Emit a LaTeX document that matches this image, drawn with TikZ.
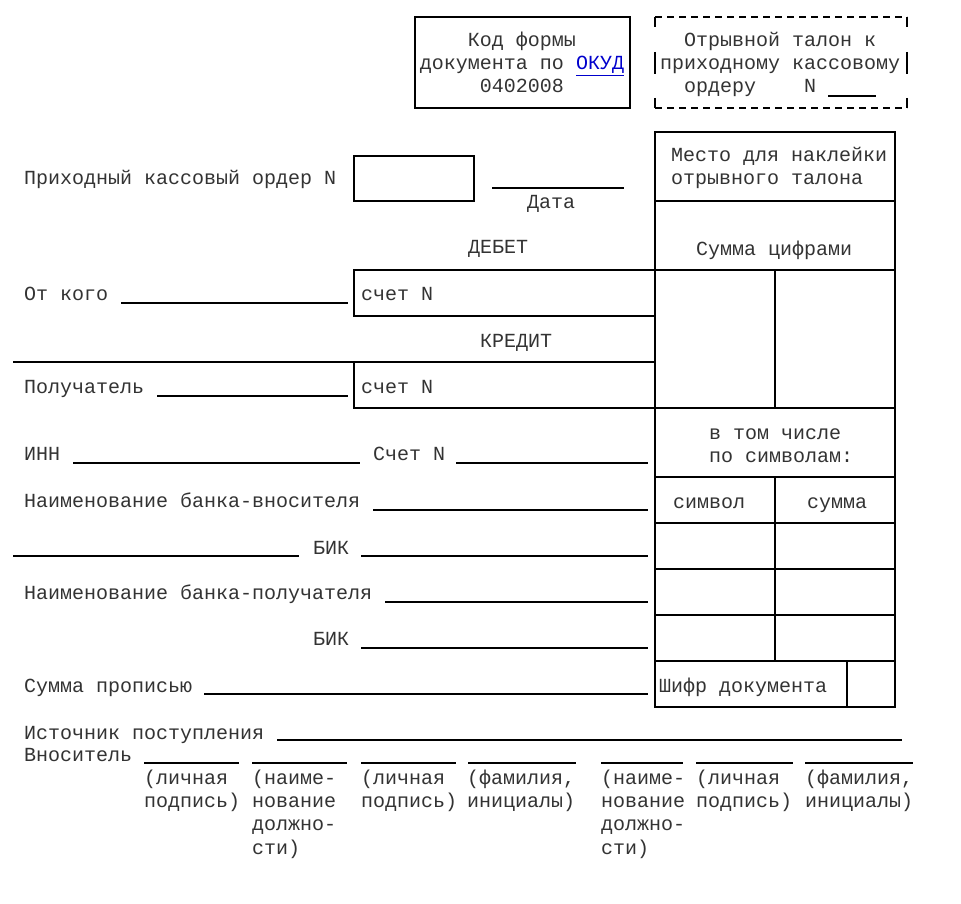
\documentclass[tikz,border=0pt]{standalone}
\usepackage{fontspec}
\setmainfont{Liberation Mono}
\definecolor{ink}{gray}{0.2}
\definecolor{okud}{rgb}{0,0,0.8}
\tikzset{
  lbl/.style={anchor=base west, inner sep=0pt, font=\fontsize{20}{23}\selectfont, text=ink, yshift=-2pt},
  ctr/.style={lbl, anchor=base},
  rule/.style={line width=1.1pt, draw=black},
  dashrule/.style={rule, dash pattern=on 7pt off 5pt}
}
\begin{document}
\begin{tikzpicture}[x=1pt,y=-1pt]
\useasboundingbox[fill=white] (0,0) rectangle (961,904);

% --- top box: form code
\draw[rule] (415,17) rectangle (630,108);
\node[ctr] (kod1) at (522,45) {Код формы};
\node[ctr] (kod2) at (522,68) {документа по \textcolor{okud}{\underline{ОКУД}}};
\node[ctr] (kod3) at (522,91) {0402008};

% --- dashed box: tear-off slip
\draw[dashrule] (655,17) -- (907,17);
\draw[dashrule] (655,108) -- (907,108);
\foreach \xx in {655,907}{
  \draw[rule] (\xx,17) -- (\xx,27);
  \draw[rule] (\xx,52) -- (\xx,74);
  \draw[rule] (\xx,98) -- (\xx,108);
}
\node[lbl] (tal1) at (684,45) {Отрывной талон к};
\node[lbl] (tal2) at (660,68) {приходному кассовому};
\node[lbl] (tal3) at (684,91) {ордеру};
\node[lbl] (tal4) at (804,91) {N};
\draw[rule] (828,96) -- (876,96);

% --- right table
\draw[rule] (655,132) rectangle (895,707);
\foreach \yy in {201,270,408,477,523,569,615,661}{
  \draw[rule] (655,\yy) -- (895,\yy);
}
\draw[rule] (775,270) -- (775,408);
\draw[rule] (775,477) -- (775,661);
\draw[rule] (847,661) -- (847,707);
\node[lbl] (mesto1) at (671,160) {Место для наклейки};
\node[lbl] (mesto2) at (671,183) {отрывного талона};
\node[lbl] (sumc) at (696,253) {Сумма цифрами};
\node[lbl] (vtom1) at (709,437) {в том числе};
\node[lbl] (vtom2) at (709,460) {по символам:};
\node[lbl] (simv) at (673,506) {символ};
\node[lbl] (summa) at (807,506) {сумма};
\node[lbl] (shifr) at (659,690) {Шифр документа};

% --- order number and date
\node[lbl] (pko) at (24,183) {Приходный кассовый ордер N};
\draw[rule] (354,156) rectangle (474,201);
\draw[rule] (492,188) -- (624,188);
\node[ctr] (data) at (551,207) {Дата};

% --- debit
\node[ctr] (debet) at (498,252) {ДЕБЕТ};
\draw[rule] (655,270) -- (354,270) -- (354,316) -- (655,316);
\node[lbl] (otkogo) at (24,298) {От кого};
\draw[rule] (121,303) -- (348,303);
\node[lbl] (schet1) at (361,298) {счет N};

% --- credit
\node[ctr] (kredit) at (516,345) {КРЕДИТ};
\draw[rule] (13,362) -- (655,362);
\draw[rule] (354,362) -- (354,408) -- (655,408);
\node[lbl] (poluch) at (24,391) {Получатель};
\draw[rule] (157,396) -- (348,396);
\node[lbl] (schet2) at (361,391) {счет N};

% --- INN etc.
\node[lbl] (inn) at (24,458) {ИНН};
\draw[rule] (73,463) -- (360,463);
\node[lbl] (schet3) at (373,458) {Счет N};
\draw[rule] (456,463) -- (648,463);

\node[lbl] (bankv) at (24,505) {Наименование банка-вносителя};
\draw[rule] (373,510) -- (648,510);

\draw[rule] (13,556) -- (299,556);
\node[lbl] (bik1) at (313,552) {БИК};
\draw[rule] (361,556) -- (648,556);

\node[lbl] (bankp) at (24,597) {Наименование банка-получателя};
\draw[rule] (385,602) -- (648,602);

\node[lbl] (bik2) at (313,643) {БИК};
\draw[rule] (361,648) -- (648,648);

\node[lbl] (sprop) at (24,690) {Сумма прописью};
\draw[rule] (204,694) -- (648,694);

% --- source and depositor
\node[lbl] (ist) at (24,737) {Источник поступления};
\draw[rule] (277,740) -- (902,740);
\node[lbl] (vnos) at (24,759) {Вноситель};
\foreach \xa/\xb in {144/239,252/347,361/456,468/576,601/683,696/793,805/913}{
  \draw[rule] (\xa,763) -- (\xb,763);
}

% captions
\node[lbl] (c1a) at (144,782) {(личная};
\node[lbl] (c1b) at (144,805) {подпись)};
\node[lbl] (c2a) at (252,782) {(наиме-};
\node[lbl] (c2b) at (252,805) {нование};
\node[lbl] (c2c) at (252,828) {должно-};
\node[lbl] (c2d) at (252,852) {сти)};
\node[lbl] (c3a) at (361,782) {(личная};
\node[lbl] (c3b) at (361,805) {подпись)};
\node[lbl] (c4a) at (467,782) {(фамилия,};
\node[lbl] (c4b) at (467,805) {инициалы)};
\node[lbl] (c5a) at (601,782) {(наиме-};
\node[lbl] (c5b) at (601,805) {нование};
\node[lbl] (c5c) at (601,828) {должно-};
\node[lbl] (c5d) at (601,852) {сти)};
\node[lbl] (c6a) at (696,782) {(личная};
\node[lbl] (c6b) at (696,805) {подпись)};
\node[lbl] (c7a) at (805,782) {(фамилия,};
\node[lbl] (c7b) at (805,805) {инициалы)};
\end{tikzpicture}
\end{document}
